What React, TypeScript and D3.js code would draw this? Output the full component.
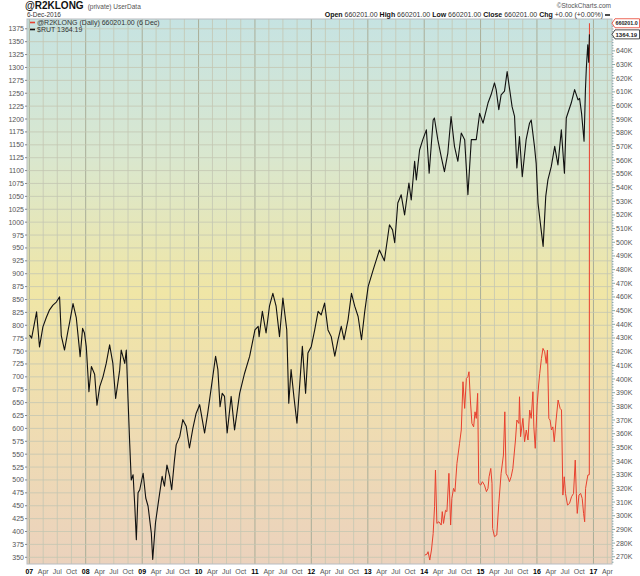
import React, { useEffect, useRef } from 'react';
import * as d3 from 'd3';

// $RUT (left axis)
const rutSeries: [string, number][] = [
  ['2007-01-03', 781], ['2007-01-16', 775], ['2007-02-07', 810], ['2007-02-17', 826], ['2007-03-08', 758],
  ['2007-03-30', 797], ['2007-04-21', 815], ['2007-05-12', 830], ['2007-06-03', 839], ['2007-06-25', 845],
  ['2007-07-16', 855], ['2007-07-27', 780], ['2007-08-17', 752], ['2007-09-09', 790], ['2007-09-20', 807],
  ['2007-10-11', 842], ['2007-11-01', 815], ['2007-11-20', 758], ['2007-11-26', 739], ['2007-12-12', 794],
  ['2007-12-24', 785], ['2008-01-05', 758], ['2008-01-22', 671], ['2008-02-07', 720], ['2008-02-28', 705],
  ['2008-03-14', 645], ['2008-04-01', 681], ['2008-04-22', 700], ['2008-05-13', 726], ['2008-06-04', 762],
  ['2008-06-25', 726], ['2008-07-13', 658], ['2008-08-08', 713], ['2008-08-18', 752], ['2008-09-10', 726],
  ['2008-09-20', 752], ['2008-10-01', 658], ['2008-10-12', 571], ['2008-10-22', 500], ['2008-11-03', 510],
  ['2008-11-14', 449], ['2008-11-24', 384], ['2008-12-05', 475], ['2008-12-16', 481], ['2009-01-07', 513],
  ['2009-01-24', 465], ['2009-02-08', 449], ['2009-03-01', 397], ['2009-03-10', 346], ['2009-03-28', 417],
  ['2009-04-18', 462], ['2009-05-10', 507], ['2009-05-25', 488], ['2009-06-10', 529], ['2009-06-28', 507],
  ['2009-07-11', 481], ['2009-07-29', 539], ['2009-08-09', 568], ['2009-09-01', 584], ['2009-09-21', 617],
  ['2009-10-13', 604], ['2009-11-03', 562], ['2009-11-25', 600], ['2009-12-16', 629], ['2010-01-08', 646],
  ['2010-02-09', 591], ['2010-03-01', 629], ['2010-03-25', 681], ['2010-04-21', 740], ['2010-05-06', 714],
  ['2010-05-20', 642], ['2010-06-03', 668], ['2010-06-18', 662], ['2010-07-05', 591], ['2010-07-31', 662],
  ['2010-08-22', 597], ['2010-09-24', 668], ['2010-10-26', 707], ['2010-11-28', 740], ['2011-01-01', 791],
  ['2011-01-22', 798], ['2011-01-28', 778], ['2011-02-18', 827], ['2011-03-14', 785], ['2011-04-05', 837],
  ['2011-04-27', 862], ['2011-05-18', 837], ['2011-06-09', 778], ['2011-07-01', 853], ['2011-07-26', 791],
  ['2011-08-08', 649], ['2011-08-23', 714], ['2011-09-10', 662], ['2011-09-30', 610], ['2011-10-17', 681],
  ['2011-11-04', 759], ['2011-11-25', 668], ['2011-12-10', 746], ['2012-01-01', 759], ['2012-01-23', 791],
  ['2012-02-14', 827], ['2012-03-05', 820], ['2012-03-27', 843], ['2012-04-18', 791], ['2012-05-09', 778],
  ['2012-06-01', 740], ['2012-06-22', 772], ['2012-07-13', 798], ['2012-07-31', 772], ['2012-08-26', 811],
  ['2012-09-17', 862], ['2012-10-08', 837], ['2012-10-30', 817], ['2012-11-21', 772], ['2012-12-12', 827],
  ['2013-01-03', 875], ['2013-02-05', 908], ['2013-03-17', 946], ['2013-04-18', 925], ['2013-05-21', 995],
  ['2013-06-10', 985], ['2013-06-24', 960], ['2013-07-14', 1037], ['2013-08-05', 1053], ['2013-08-27', 1014],
  ['2013-09-24', 1076], ['2013-10-09', 1043], ['2013-10-31', 1118], ['2013-11-11', 1082], ['2013-12-02', 1140],
  ['2013-12-23', 1160], ['2014-01-15', 1179], ['2014-02-02', 1095], ['2014-02-28', 1198], ['2014-03-08', 1202],
  ['2014-03-30', 1160], ['2014-04-21', 1127], ['2014-05-12', 1098], ['2014-06-03', 1134], ['2014-06-24', 1205],
  ['2014-07-16', 1147], ['2014-08-07', 1118], ['2014-08-29', 1173], ['2014-09-20', 1160], ['2014-10-11', 1053],
  ['2014-11-02', 1160], ['2014-12-04', 1160], ['2014-12-26', 1211], ['2015-01-17', 1192], ['2015-02-18', 1231],
  ['2015-03-10', 1247], ['2015-04-01', 1270], ['2015-04-12', 1257], ['2015-04-29', 1218], ['2015-05-14', 1247],
  ['2015-06-05', 1254], ['2015-06-22', 1292], ['2015-07-07', 1260], ['2015-07-24', 1224], ['2015-08-09', 1205],
  ['2015-08-24', 1105], ['2015-09-10', 1166], ['2015-09-28', 1088], ['2015-10-23', 1160], ['2015-11-14', 1192],
  ['2015-11-25', 1198], ['2015-12-16', 1147], ['2015-12-27', 1114], ['2016-01-08', 1037], ['2016-01-23', 998],
  ['2016-02-10', 953], ['2016-02-27', 1050], ['2016-03-12', 1082], ['2016-04-03', 1108], ['2016-04-25', 1147],
  ['2016-05-16', 1111], ['2016-06-07', 1179], ['2016-06-27', 1095], ['2016-07-09', 1202], ['2016-08-10', 1231],
  ['2016-09-01', 1257], ['2016-09-23', 1237], ['2016-10-03', 1240], ['2016-10-16', 1211], ['2016-11-01', 1157],
  ['2016-11-10', 1257], ['2016-11-16', 1300], ['2016-11-25', 1344], ['2016-12-01', 1310], ['2016-12-06', 1364.19],
];

// @R2KLONG (right axis, thousands)
const r2kSeries: [string, number][] = [
  ['2014-01-05', 271.2], ['2014-01-20', 272], ['2014-01-26', 273.7], ['2014-02-06', 267.6], ['2014-02-17', 274.9],
  ['2014-02-28', 287], ['2014-03-09', 306.6], ['2014-03-15', 333.4], ['2014-03-24', 294.4], ['2014-04-06', 295.6],
  ['2014-04-21', 293.2], ['2014-04-28', 303], ['2014-05-06', 294.4], ['2014-05-19', 304], ['2014-05-28', 303],
  ['2014-06-10', 331], ['2014-06-21', 293.2], ['2014-06-29', 312.7], ['2014-07-10', 320], ['2014-07-19', 317.6],
  ['2014-08-01', 338.3], ['2014-08-18', 353], ['2014-08-29', 362.7], ['2014-09-09', 398], ['2014-09-20', 378.5],
  ['2014-10-01', 400.4], ['2014-10-11', 401.7], ['2014-10-18', 405.3], ['2014-10-27', 384.6], ['2014-11-06', 367.5],
  ['2014-11-17', 365], ['2014-11-26', 376], ['2014-12-04', 371.2], ['2014-12-13', 389.5], ['2014-12-20', 323.7],
  ['2015-01-02', 322.4], ['2015-01-13', 324.9], ['2015-01-26', 322.4], ['2015-02-08', 317.6], ['2015-02-18', 320],
  ['2015-02-25', 328.5], ['2015-03-08', 334.6], ['2015-03-16', 323.7], ['2015-03-20', 290.7], ['2015-04-01', 284.7],
  ['2015-04-16', 285.9], ['2015-04-29', 309], ['2015-05-14', 331], ['2015-05-29', 344.4], ['2015-06-07', 376],
  ['2015-06-15', 331], ['2015-06-26', 328.5], ['2015-07-07', 324.9], ['2015-07-18', 328.5], ['2015-07-29', 334.6],
  ['2015-08-15', 355.4], ['2015-08-24', 370], ['2015-09-06', 367.5], ['2015-09-10', 387], ['2015-09-17', 357.8],
  ['2015-10-02', 371.2], ['2015-10-13', 354.1], ['2015-10-24', 362.7], ['2015-11-04', 355.4], ['2015-11-15', 377.3],
  ['2015-11-25', 371.2], ['2015-12-06', 390.7], ['2015-12-12', 365], ['2015-12-21', 349.3], ['2016-01-02', 380.9],
  ['2016-01-12', 395.6], ['2016-01-19', 404], ['2016-01-30', 415], ['2016-02-09', 422.4], ['2016-02-20', 420],
  ['2016-03-01', 411.4], ['2016-03-09', 421.2], ['2016-03-18', 371.2], ['2016-03-26', 370], ['2016-04-04', 362.7],
  ['2016-04-13', 365], ['2016-04-22', 354.1], ['2016-05-04', 370], ['2016-05-17', 384.6], ['2016-05-30', 378.5],
  ['2016-06-08', 377.3], ['2016-06-17', 315.1], ['2016-06-26', 328.5], ['2016-07-04', 316.3], ['2016-07-17', 307.8],
  ['2016-07-30', 309], ['2016-08-12', 313.9], ['2016-08-25', 316.3], ['2016-09-05', 340.7], ['2016-09-12', 316.3],
  ['2016-09-18', 301.7], ['2016-09-29', 315.1], ['2016-10-10', 316.3], ['2016-10-20', 312.7], ['2016-10-29', 301.7],
  ['2016-11-05', 295.6], ['2016-11-11', 320], ['2016-11-20', 326.1], ['2016-11-26', 329.8], ['2016-12-05', 330],
  ['2016-12-06', 660.201],
];

const leftTicks = d3.range(350, 1376, 25);
const rightTicks = d3.range(270, 641, 10);
const monthNames = ['Jan', 'Feb', 'Mar', 'Apr', 'May', 'Jun', 'Jul', 'Aug', 'Sep', 'Oct', 'Nov', 'Dec'];

const FONT = '"Liberation Sans", Arial, sans-serif';

const App: React.FC = () => {
  const svgRef = useRef<SVGSVGElement>(null);

  useEffect(() => {
    if (!svgRef.current) return;
    const svg = d3.select(svgRef.current);
    svg.selectAll('*').remove();

    const width = 640;
    const height = 576;
    const plot = { left: 27, right: 612, top: 19, bottom: 564 };
    const parse = d3.timeParse('%Y-%m-%d');

    const x = d3.scaleTime()
      .domain([new Date(2006, 11, 17), new Date(2017, 4, 1)])
      .range([plot.left, plot.right]);
    const yL = d3.scaleLinear().domain([337, 1394]).range([plot.bottom, plot.top]);
    const yR = d3.scaleLinear().domain([264.7, 663.3]).range([plot.bottom, plot.top]);

    svg.attr('viewBox', `0 0 ${width} ${height}`);
    svg.append('rect').attr('width', width).attr('height', height).attr('fill', '#fff');

    // Background gradient
    const defs = svg.append('defs');
    const grad = defs.append('linearGradient')
      .attr('id', 'bg').attr('x1', 0).attr('y1', 0).attr('x2', 0).attr('y2', 1);
    [
      ['0%', '#c6e3e2'],
      ['25%', '#d9e7cf'],
      ['50%', '#f0e6a6'],
      ['75%', '#efdcb2'],
      ['100%', '#ebd2bd'],
    ].forEach(([o, c]) => grad.append('stop').attr('offset', o).attr('stop-color', c));
    defs.append('clipPath').attr('id', 'clip')
      .append('rect')
      .attr('x', plot.left).attr('y', plot.top)
      .attr('width', plot.right - plot.left).attr('height', plot.bottom - plot.top);

    svg.append('rect')
      .attr('x', plot.left).attr('y', plot.top)
      .attr('width', plot.right - plot.left).attr('height', plot.bottom - plot.top)
      .attr('fill', 'url(#bg)');

    // Grid
    const quarters = d3.timeMonth.every(3)!.range(x.domain()[0], x.domain()[1]);
    svg.append('g').selectAll('line')
      .data(quarters)
      .enter().append('line')
      .attr('x1', d => x(d)).attr('x2', d => x(d))
      .attr('y1', plot.top).attr('y2', plot.bottom)
      .attr('stroke', d => (d.getMonth() === 0 ? '#a9ad98' : '#c4c6b2'))
      .attr('stroke-width', d => (d.getMonth() === 0 ? 1 : 0.8));

    svg.append('g').selectAll('line')
      .data(leftTicks)
      .enter().append('line')
      .attr('x1', plot.left).attr('x2', plot.right)
      .attr('y1', d => yL(d)).attr('y2', d => yL(d))
      .attr('stroke', '#c4c6b2').attr('stroke-width', 0.8);

    // Frame
    svg.append('rect')
      .attr('x', plot.left).attr('y', plot.top)
      .attr('width', plot.right - plot.left).attr('height', plot.bottom - plot.top)
      .attr('fill', 'none').attr('stroke', '#b8bcc0').attr('stroke-width', 1);

    // Left axis
    const left = svg.append('g').attr('font-family', FONT).attr('font-size', 7).attr('fill', '#555');
    leftTicks.forEach(v => {
      left.append('line')
        .attr('x1', plot.left - 2).attr('x2', plot.left)
        .attr('y1', yL(v)).attr('y2', yL(v))
        .attr('stroke', '#888');
      left.append('text')
        .attr('x', plot.left - 3).attr('y', yL(v) + 2.5)
        .attr('text-anchor', 'end')
        .text(v);
    });

    // Right axis
    const right = svg.append('g').attr('font-family', FONT).attr('font-size', 7).attr('fill', '#555');
    d3.range(266, 662, 2).forEach(v => {
      right.append('line')
        .attr('x1', plot.right).attr('x2', plot.right + (v % 10 === 0 ? 3 : 1.5))
        .attr('y1', yR(v)).attr('y2', yR(v))
        .attr('stroke', '#8aa');
    });
    rightTicks.forEach(v => {
      right.append('text')
        .attr('x', plot.right + 4).attr('y', yR(v) + 2.5)
        .text(`${v}K`);
    });

    // Bottom axis
    const bottom = svg.append('g').attr('font-family', FONT).attr('font-size', 7).attr('fill', '#333');
    quarters.forEach(d => {
      const isYear = d.getMonth() === 0;
      bottom.append('text')
        .attr('x', x(d)).attr('y', 574)
        .attr('text-anchor', 'middle')
        .attr('font-weight', isYear ? 'bold' : 'normal')
        .attr('fill', isYear ? '#000' : '#555')
        .text(isYear ? d3.timeFormat('%y')(d) : monthNames[d.getMonth()]);
    });

    // Series
    const rut = rutSeries.map(([d, v]) => ({ date: parse(d)!, value: v }));
    const r2k = r2kSeries.map(([d, v]) => ({ date: parse(d)!, value: v }));
    const lineL = d3.line<{ date: Date; value: number }>().x(d => x(d.date)).y(d => yL(d.value));
    const lineR = d3.line<{ date: Date; value: number }>().x(d => x(d.date)).y(d => yR(d.value));

    const series = svg.append('g').attr('clip-path', 'url(#clip)');
    series.append('path')
      .datum(r2k)
      .attr('fill', 'none')
      .attr('stroke', '#e8402e')
      .attr('stroke-width', 1)
      .attr('d', lineR);
    series.append('path')
      .datum(rut)
      .attr('fill', 'none')
      .attr('stroke', '#111')
      .attr('stroke-width', 1.1)
      .attr('stroke-linejoin', 'round')
      .attr('d', lineL);

    // Last value tags
    const tag = (yPos: number, label: string, stroke: string, size: number) => {
      const g = svg.append('g');
      g.append('path')
        .attr('d', `M${plot.right},${yPos} L${plot.right + 3},${yPos - 4.5} L${width - 0.5},${yPos - 4.5} L${width - 0.5},${yPos + 4.5} L${plot.right + 3},${yPos + 4.5} Z`)
        .attr('fill', '#fff')
        .attr('stroke', stroke)
        .attr('stroke-width', 0.8);
      g.append('text')
        .attr('x', plot.right + 3.5).attr('y', yPos + 2.2)
        .attr('font-family', FONT).attr('font-size', size).attr('font-weight', 'bold')
        .attr('fill', '#222')
        .text(label);
    };
    tag(yR(660.201), '660201.0', '#e8402e', 5.3);
    tag(yL(1364.19), '1364.19', '#222', 6);

    // Legend
    const legend = svg.append('g').attr('font-family', FONT).attr('font-size', 7).attr('fill', '#333');
    legend.append('line').attr('x1', 30).attr('x2', 35).attr('y1', 22.5).attr('y2', 22.5)
      .attr('stroke', '#e8402e').attr('stroke-width', 1.6);
    legend.append('text').attr('x', 37).attr('y', 25).text('@R2KLONG (Daily) 660201.00 (6 Dec)');
    legend.append('line').attr('x1', 30).attr('x2', 35).attr('y1', 29.5).attr('y2', 29.5)
      .attr('stroke', '#111').attr('stroke-width', 1.6);
    legend.append('text').attr('x', 37).attr('y', 32).text('$RUT 1364.19');

    // Header
    const head = svg.append('g').attr('font-family', FONT);
    const title = head.append('text').attr('x', 25).attr('y', 9);
    title.append('tspan').attr('font-size', 10).attr('font-weight', 'bold').attr('fill', '#111').text('@R2KLONG');
    title.append('tspan').attr('font-size', 6.5).attr('fill', '#555').attr('dx', 4).text('(private) UserData');
    head.append('text').attr('x', 27).attr('y', 17).attr('font-size', 6.5).attr('fill', '#333').text('6-Dec-2016');
    head.append('text').attr('x', 611).attr('y', 8).attr('text-anchor', 'end')
      .attr('font-size', 6.5).attr('fill', '#555').text('©StockCharts.com');

    const quote = head.append('text').attr('x', 603).attr('y', 17).attr('text-anchor', 'end')
      .attr('font-size', 7).attr('fill', '#333');
    [
      ['Open', ' 660201.00 '],
      ['High', ' 660201.00 '],
      ['Low', ' 660201.00 '],
      ['Close', ' 660201.00 '],
      ['Chg', ' +0.00 (+0.00%)'],
    ].forEach(([k, v]) => {
      quote.append('tspan').attr('font-weight', 'bold').attr('fill', '#111').text(` ${k}`);
      quote.append('tspan').text(v);
    });
    head.append('line').attr('x1', 605).attr('x2', 610).attr('y1', 15).attr('y2', 15)
      .attr('stroke', '#111').attr('stroke-width', 1.5);
  }, []);

  return (
    <svg
      ref={svgRef}
      width={640}
      height={576}
      style={{ position: 'absolute', left: 0, top: 0, display: 'block' }}
    />
  );
};

export default App;
